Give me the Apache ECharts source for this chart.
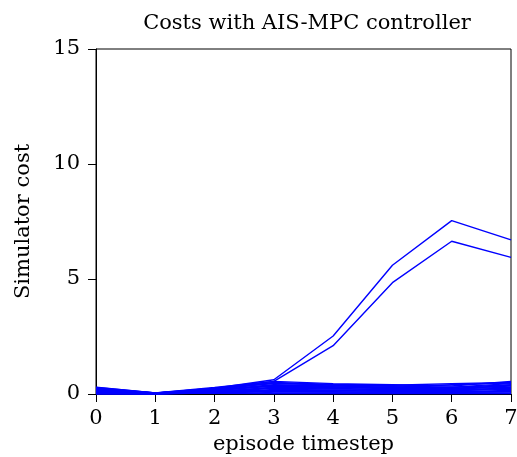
<!DOCTYPE html>
<html><head><meta charset="utf-8">
<script src="https://cdn.jsdelivr.net/npm/echarts@6/dist/echarts.min.js"></script>
<style>html,body{margin:0;padding:0;background:#fff}#c{width:517px;height:457px}</style>
</head><body><div id="c"></div>
<script>
const categories = [0,1,2,3,4,5,6,7];
const yTicks = [0,5,10,15];
const highA = [0.25,0.05,0.25,0.62,2.52,5.60,7.54,6.70];
const highB = [0.22,0.04,0.22,0.55,2.10,4.84,6.64,5.94];
const low1  = [0.30,0.05,0.28,0.55,0.45,0.40,0.35,0.55];
const low2  = [0.25,0.04,0.22,0.50,0.42,0.38,0.45,0.50];
const low3  = [0.20,0.03,0.25,0.45,0.40,0.35,0.30,0.45];
const low4  = [0.15,0.05,0.18,0.40,0.35,0.30,0.28,0.40];
const low5  = [0.10,0.02,0.15,0.35,0.30,0.28,0.25,0.35];
const low6  = [0.05,0.01,0.10,0.30,0.28,0.25,0.22,0.30];
const low7  = [0.02,0.01,0.08,0.25,0.22,0.20,0.18,0.25];
const low8  = [0.00,0.00,0.05,0.20,0.18,0.15,0.15,0.20];
const low9  = [0.12,0.03,0.12,0.15,0.15,0.12,0.10,0.15];
const low10 = [0.08,0.02,0.05,0.10,0.10,0.08,0.08,0.10];
const low11 = [0.18,0.04,0.20,0.05,0.05,0.05,0.05,0.05];
const low12 = [0.22,0.05,0.03,0.02,0.02,0.02,0.02,0.02];
const low13 = [0.28,0.05,0.18,0.48,0.38,0.33,0.40,0.48];
const low14 = [0.16,0.03,0.14,0.38,0.32,0.22,0.20,0.38];
const low15 = [0.06,0.02,0.10,0.28,0.25,0.18,0.12,0.28];
const low16 = [0.03,0.01,0.06,0.12,0.08,0.10,0.06,0.12];
const allSeries = [highA,highB,low1,low2,low3,low4,low5,low6,low7,low8,low9,low10,low11,low12,low13,low14,low15,low16];

const font = '"DejaVu Serif",serif';
const chart = echarts.init(document.getElementById('c'), null, {renderer:'canvas'});
chart.setOption({
  animation:false,
  backgroundColor:'#fff',
  title:{text:'Costs with AIS-MPC controller', left:302, top:8, textAlign:'center',
    textStyle:{fontFamily:font, fontSize:21, fontWeight:'normal', color:'#000'}},
  grid:{left:96, right:6, top:49, bottom:63, show:true, borderColor:'#000', borderWidth:1,
    outerBoundsMode:'none', containLabel:false},
  xAxis:{type:'value', min:0, max:7, interval:1,
    name:'episode timestep', nameLocation:'middle', nameGap:40,
    nameTextStyle:{fontFamily:font, fontSize:21, color:'#000'},
    axisLine:{lineStyle:{color:'#000', width:1}},
    axisTick:{inside:false, length:8, lineStyle:{color:'#000'}},
    axisLabel:{fontFamily:font, fontSize:21, color:'#000', margin:14,
      formatter:v=>String(categories[v] ?? v)},
    splitLine:{show:false}},
  yAxis:{type:'value', min:0, max:15, interval:5,
    name:'Simulator cost', nameLocation:'middle', nameGap:62, nameRotate:90,
    nameTextStyle:{fontFamily:font, fontSize:21, color:'#000'},
    axisLine:{lineStyle:{color:'#000', width:1}},
    axisTick:{inside:false, length:8, lineStyle:{color:'#000'}},
    axisLabel:{fontFamily:font, fontSize:21, color:'#000', margin:16,
      formatter:v=>yTicks.includes(v)?String(v):''},
    splitLine:{show:false}},
  series: allSeries.map(d=>({type:'line', data:d.map((v,i)=>[categories[i],v]),
    symbol:'none', lineStyle:{color:'#0000ff', width:1.4}, clip:false}))
});
</script></body></html>
